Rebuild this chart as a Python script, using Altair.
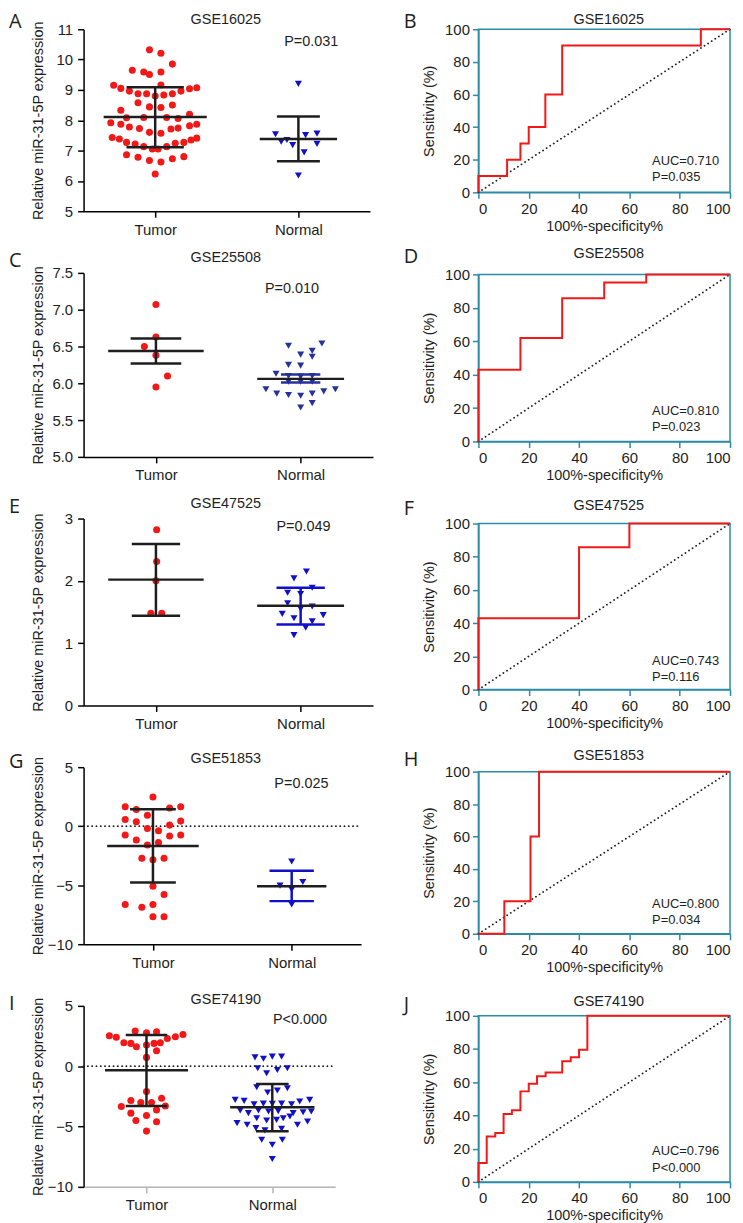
import altair as alt
import pandas as pd

FONT = "Liberation Sans"
LFONT = "Open Sans"
INK = "#1e1e1e"
RED = "#f21818"
BLUE = "#1010c8"
NAVY = "#24329a"
TEAL = "#2c8ca6"
GREY = "#b4b4b4"

# ---------------- scatter panels: (offset from group centre, value) ----------------
A_tumor_dx = [-0.04, 0.04, 0.12, -0.16, -0.08, -0.04, 0.04,
              -0.29, -0.24, -0.18, -0.12, -0.06, 0.0, 0.06, 0.12, 0.18, 0.24, 0.29, 0.04,
              -0.24, -0.12, -0.04, 0.04, 0.12, 0.24,
              -0.20, -0.08, 0.08, 0.16,
              -0.31, -0.24, -0.18, -0.11, -0.04, 0.04, 0.11, 0.16, 0.24, 0.29,
              -0.30, -0.25, -0.20, -0.14, -0.08, -0.02, 0.02, 0.08, 0.14, 0.20, 0.25, 0.29,
              -0.20, -0.12, -0.04, 0.04, 0.12, 0.20, 0.0]
A_tumor_y = [10.32, 10.21, 9.85, 9.65, 9.59, 9.51, 9.59,
             9.15, 9.05, 8.96, 8.87, 8.87, 8.80, 8.83, 8.87, 8.96, 9.04, 9.07, 9.16,
             8.33, 8.58, 8.44, 8.42, 8.50, 8.20,
             8.08, 8.09, 8.09, 8.06,
             7.92, 7.87, 7.78, 7.73, 7.60, 7.57, 7.71, 7.74, 7.82, 7.87,
             7.43, 7.38, 7.27, 7.22, 7.13, 7.05, 7.05, 7.13, 7.24, 7.27, 7.35, 7.41,
             6.86, 6.78, 6.67, 6.62, 6.73, 6.80, 6.23]
A_normal_dx = [0.0, -0.16, -0.12, -0.08, -0.04, 0.05, 0.13, 0.13, 0.04, 0.0]
A_normal_y = [9.20, 7.54, 7.29, 7.35, 7.18, 7.51, 7.56, 7.22, 6.94, 6.18]
A_tumor_stats = [8.11, 7.11, 9.09]     # mean, lower, upper
A_normal_stats = [7.38, 6.65, 8.12]

C_tumor_dx = [0.0, 0.0, -0.08, 0.0, 0.08, 0.0]
C_tumor_y = [7.07, 6.63, 6.50, 6.38, 6.10, 5.95]
C_normal_dx = [-0.084, 0.08, 0.147, 0.0, 0.08, -0.084, 0.0, -0.17, -0.084, 0.0, 0.08,
               -0.084, 0.0, 0.08, -0.24, -0.165, -0.084, 0.0, 0.08, 0.16, 0.24, 0.0, 0.08]
C_normal_y = [6.51, 6.44, 6.54, 6.39, 6.36, 6.25, 6.24, 6.13, 6.10, 6.09, 6.10,
              6.02, 6.02, 6.02, 5.92, 5.86, 5.84, 5.83, 5.86, 5.89, 5.92, 5.67, 5.73]
C_tumor_stats = [6.44, 6.27, 6.61]
C_normal_stats = [6.06, 6.01, 6.12]

E_tumor_dx = [0.005, 0.005, 0.0, -0.035, 0.04]
E_tumor_y = [2.82, 2.31, 2.00, 1.48, 1.48]
E_normal_dx = [0.04, -0.046, -0.09, 0.0, 0.08, -0.09, 0.0, 0.08, -0.127, -0.046, 0.08, 0.156, 0.035, -0.046]
E_normal_y = [2.15, 2.04, 1.81, 1.79, 1.89, 1.64, 1.55, 1.59, 1.47, 1.40, 1.35, 1.45, 1.25, 1.13]
E_tumor_stats = [2.02, 1.44, 2.59]
E_normal_stats = [1.60, 1.30, 1.89]

G_tumor_dx = [0.0, -0.2, -0.12, 0.12, 0.2, -0.2, -0.12, -0.04, 0.12, 0.2, -0.04, 0.04, -0.2, 0.2,
              0.12, -0.12, -0.04, 0.04, -0.08, 0.0, 0.08, 0.0, 0.08, -0.2, -0.08, 0.0, 0.0, 0.08]
G_tumor_y = [2.48, 1.64, 1.41, 1.55, 1.64, 0.57, 0.37, 0.93, 0.09, 0.43, -0.19, -0.38, -0.75, -0.75,
             -0.84, -1.17, -1.59, -1.39, -2.71, -2.85, -2.71, -5.09, -5.79, -6.63, -6.86, -6.63, -7.67, -7.67]
G_normal_dx = [0.0, -0.084, 0.08, 0.0, 0.0]
G_normal_y = [-2.99, -5.04, -4.73, -5.37, -6.63]
G_tumor_stats = [-1.67, -4.78, 1.44]
G_normal_stats = [-5.09, -6.35, -3.77]

I_tumor_dx = [-0.295, -0.24, -0.09, 0.0, 0.08, 0.166, 0.23, 0.29,
              -0.18, -0.124, -0.08, 0.0, 0.06, 0.11, 0.08, 0.0,
              0.0, 0.12, -0.2, -0.124, -0.045, 0.04, 0.15,
              -0.124, 0.0, 0.08, -0.084, 0.08, 0.0]
I_tumor_y = [2.52, 2.39, 2.91, 2.77, 2.85, 2.30, 2.44, 2.63,
             1.94, 1.89, 1.61, 1.75, 1.89, 1.94, 1.28, 0.73,
             -2.10, -2.65, -3.34, -2.85, -3.01, -3.01, -3.29,
             -3.89, -4.08, -3.62, -4.50, -4.61, -5.38]
I_normal_dx = [-0.137, -0.07, 0.0, 0.074,
               -0.116, -0.045, 0.04, 0.12,
               -0.124, -0.037, 0.04, 0.12,
               -0.295, -0.224, -0.145, -0.071, 0.0, 0.074, 0.153, 0.218, 0.297,
               -0.255, -0.19, -0.11, -0.03, 0.047, 0.166, 0.245, 0.31,
               -0.28, -0.2, -0.124, -0.045, 0.034, 0.087, 0.14, 0.2, 0.28,
               -0.13, -0.058, 0.074,
               -0.084, 0.08, 0.0, 0.0]
I_normal_y = [0.73, 0.62, 0.79, 0.79,
              -0.17, -0.59, -0.32, -0.17,
              -1.74, -2.18, -2.02, -1.83,
              -2.79, -2.87, -3.15, -3.10, -3.12, -3.10, -3.15, -2.93, -2.79,
              -3.67, -3.89, -3.67, -3.75, -3.72, -3.89, -3.81, -3.75,
              -4.72, -4.85, -4.31, -4.50, -4.45, -4.31, -4.17, -4.85, -4.58,
              -5.13, -5.32, -5.19,
              -6.09, -6.09, -6.51, -7.69]
I_tumor_stats = [-0.34, -3.29, 2.58]
I_normal_stats = [-3.40, -5.40, -1.47]

# ---------------- ROC curves (step vertices) ----------------
B_fpr = [0, 0, 11.4, 11.4, 16.7, 16.7, 20, 20, 26.6, 26.6, 33.3, 33.3, 88.4, 88.4, 100]
B_tpr = [0, 10, 10, 20, 20, 30, 30, 40, 40, 60, 60, 90, 90, 100, 100]
D_fpr = [0, 0, 16.7, 16.7, 33.3, 33.3, 50, 50, 66.7, 66.7, 100]
D_tpr = [0, 42.9, 42.9, 61.9, 61.9, 85.7, 85.7, 95.2, 95.2, 100, 100]
F_fpr = [0, 0, 40, 40, 60, 60, 100]
F_tpr = [0, 42.9, 42.9, 85.7, 85.7, 100, 100]
H_fpr = [0, 10.3, 10.3, 20.7, 20.7, 24.1, 24.1, 100]
H_tpr = [0, 0, 20, 20, 60, 60, 100, 100]
J_fpr = [0, 0, 3.3, 3.3, 6.7, 6.7, 10, 10, 13.3, 13.3, 16.7, 16.7, 20, 20, 23.3, 23.3,
         26.7, 26.7, 33.3, 33.3, 36.7, 36.7, 40, 40, 43.3, 43.3, 100]
J_tpr = [0, 11.4, 11.4, 27.3, 27.3, 29.5, 29.5, 40.9, 40.9, 43.2, 43.2, 54.5, 54.5, 59.1, 59.1,
         63.6, 63.6, 65.9, 65.9, 72.7, 72.7, 75, 75, 79.5, 79.5, 100, 100]

titles = ["GSE16025", "GSE25508", "GSE47525", "GSE51853", "GSE74190"]
scatter_letters = ["A", "C", "E", "G", "I"]
roc_letters = ["B", "D", "F", "H", "J"]
scatter_p = ["P=0.031", "P=0.010", "P=0.049", "P=0.025", "P<0.000"]
roc_auc = ["AUC=0.710", "AUC=0.810", "AUC=0.743", "AUC=0.800", "AUC=0.796"]
roc_p = ["P=0.035", "P=0.023", "P=0.116", "P=0.034", "P<0.000"]

# ---------------- layout / style settings ----------------
scatter_cfg = [
    dict(w=288, h=183, ydom=[5, 11], yticks=[5, 6, 7, 8, 9, 10, 11], yfmt="d", ty=-5, ly=-1,
         px=2.09, py=10.57, ncol=BLUE, nbar=INK, tm=0.36, tc=0.2, nm=0.27, nc=0.15, zero=False, xcol="black"),
    dict(w=291, h=185, ydom=[5, 7.5], yticks=[5, 5.5, 6, 6.5, 7, 7.5], yfmt=".1f", ty=-11, ly=-6,
         px=1.94, py=7.28, ncol=NAVY, nbar=NAVY, tm=0.33, tc=0.175, nm=0.3, nc=0.136, zero=False, xcol="black"),
    dict(w=291, h=188, ydom=[0, 3], yticks=[0, 1, 2, 3], yfmt="d", ty=-11, ly=-6,
         px=2.02, py=2.86, ncol=BLUE, nbar=BLUE, tm=0.33, tc=0.167, nm=0.3, nc=0.167, zero=False, xcol="black"),
    dict(w=279, h=178, ydom=[-10, 5], yticks=[-10, -5, 0, 5], yfmt="d", ty=-4, ly=1,
         px=2.07, py=3.6, ncol=BLUE, nbar=BLUE, tm=0.33, tc=0.165, nm=0.25, nc=0.16, zero=True, xcol="black"),
    dict(w=253, h=182, ydom=[-10, 5], yticks=[-10, -5, 0, 5], yfmt="d", ty=-2, ly=4,
         px=2.22, py=3.82, ncol=BLUE, nbar=INK, tm=0.33, tc=0.165, nm=0.335, nc=0.13, zero=True, xcol=GREY),
]
roc_cfg = [
    dict(h=164, ty=-5, ly=-1, ay=19.3, py=9.1),
    dict(h=168, ty=-16, ly=-11, ay=18.4, py=8.5),
    dict(h=167, ty=-14, ly=-9, ay=17.5, py=7.6),
    dict(h=163, ty=-12, ly=-6, ay=18.4, py=8.2),
    dict(h=167, ty=-10, ly=-5, ay=18.7, py=8.4),
]
ROC_W = 253
LAB = 15
TIT = 14.5


def text_layer(txt, x, y, size, align="center", font=FONT, baseline="alphabetic"):
    return alt.Chart(pd.DataFrame({"t": [txt]})).mark_text(
        font=font, fontSize=size, color=INK, align=align, baseline=baseline
    ).encode(text="t:N", x=alt.value(x), y=alt.value(y))


def scatter_panel(i, t_dx, t_y, n_dx, n_y, t_st, n_st):
    c = scatter_cfg[i]
    w, h = c["w"], c["h"]
    xax = alt.Axis(values=[1, 2], labelExpr="datum.value == 1 ? 'Tumor' : 'Normal'", title="",
                   labelFont=FONT, labelFontSize=LAB, labelColor=INK, labelPadding=5,
                   tickSize=6, tickWidth=1.5, tickColor=c["xcol"], domainColor=c["xcol"],
                   domainWidth=1.5, grid=False)
    yax = alt.Axis(values=c["yticks"], format=c["yfmt"], title="Relative miR-31-5P expression",
                   titleX=-45, titleY=h / 2, titleAngle=-90, titleAlign="center", titleBaseline="middle",
                   titleFont=FONT, titleFontSize=TIT, titleFontWeight="normal", titleColor=INK,
                   labelFont=FONT, labelFontSize=LAB, labelColor=INK, labelPadding=5,
                   tickSize=6, tickWidth=1.5, tickColor="black", domainColor="black",
                   domainWidth=1.5, grid=False)
    X = alt.X("x:Q", scale=alt.Scale(domain=[0.5, 2.5], nice=False, zero=False), axis=xax)
    Y = alt.Y("y:Q", scale=alt.Scale(domain=c["ydom"], nice=False, zero=False), axis=yax)

    layers = []
    if c["zero"]:
        zdf = pd.DataFrame({"x": [0.5], "x2": [2.5], "y": [0]})
        layers.append(alt.Chart(zdf).mark_rule(color=INK, strokeWidth=1.8, strokeDash=[0.1, 4.2],
                                                 strokeCap="round").encode(x=X, x2="x2:Q", y=Y))
    tdf = pd.DataFrame({"x": [1 + d for d in t_dx], "y": t_y})
    ndf = pd.DataFrame({"x": [2 + d for d in n_dx], "y": n_y})
    layers.append(alt.Chart(tdf).mark_point(filled=True, shape="circle", size=50, color=RED, opacity=1)
                  .encode(x=X, y=Y))
    layers.append(alt.Chart(ndf).mark_point(filled=True, shape="triangle-down", size=50, color=c["ncol"],
                                             opacity=1).encode(x=X, y=Y))
    rows_h = []
    rows_v = []
    for ctr, st, ch, bc in [(1, t_st, c["tc"], INK), (2, n_st, c["nc"], c["nbar"])]:
        mean, lo, hi = st
        rows_h.append(dict(x=ctr - ch, x2=ctr + ch, y=lo, c=bc))
        rows_h.append(dict(x=ctr - ch, x2=ctr + ch, y=hi, c=bc))
        rows_v.append(dict(x=ctr, y=lo, y2=hi, c=bc))
    means = [dict(x=1 - c["tm"], x2=1 + c["tm"], y=t_st[0], c=INK),
             dict(x=2 - c["nm"], x2=2 + c["nm"], y=n_st[0], c=INK)]
    layers.append(alt.Chart(pd.DataFrame(rows_v)).mark_rule(strokeWidth=2.5)
                  .encode(x=X, y=Y, y2="y2:Q", color=alt.Color("c:N", scale=None)))
    layers.append(alt.Chart(pd.DataFrame(rows_h)).mark_rule(strokeWidth=2.5)
                  .encode(x=X, x2="x2:Q", y=Y, color=alt.Color("c:N", scale=None)))
    layers.append(alt.Chart(pd.DataFrame(means)).mark_rule(strokeWidth=2.5)
                  .encode(x=X, x2="x2:Q", y=Y, color=alt.Color("c:N", scale=None)))
    pdf = pd.DataFrame({"x": [c["px"]], "y": [c["py"]], "t": [scatter_p[i]]})
    layers.append(alt.Chart(pdf).mark_text(font=FONT, fontSize=TIT, color=INK, align="center",
                                            baseline="middle").encode(x=X, y=Y, text="t:N"))
    layers.append(text_layer(titles[i], 143, c["ty"], TIT))
    layers.append(text_layer(scatter_letters[i], -75, c["ly"], 20, align="left", font=LFONT))
    return alt.layer(*layers).properties(width=w, height=h)


def roc_panel(i, fpr, tpr):
    c = roc_cfg[i]
    h = c["h"]
    xax = alt.Axis(values=[0, 20, 40, 60, 80, 100], title="100%-specificity%",
                   titleX=ROC_W / 2, titleY=34, titleAlign="center", titleBaseline="middle",
                   titleFont=FONT, titleFontSize=TIT, titleFontWeight="normal", titleColor=INK,
                   labelFont=FONT, labelFontSize=LAB, labelColor=INK, labelPadding=3,
                   tickSize=6, tickWidth=1.5, tickColor=TEAL, domainColor=TEAL, domainWidth=1.5, grid=False)
    yax = alt.Axis(values=[0, 20, 40, 60, 80, 100], title="Sensitivity (%)",
                   titleX=-49, titleY=h / 2, titleAngle=-90, titleAlign="center", titleBaseline="middle",
                   titleFont=FONT, titleFontSize=TIT, titleFontWeight="normal", titleColor=INK,
                   labelFont=FONT, labelFontSize=LAB, labelColor=INK, labelPadding=3,
                   tickSize=6, tickWidth=1.5, tickColor=TEAL, domainColor=TEAL, domainWidth=1.5, grid=False)
    X = alt.X("x:Q", scale=alt.Scale(domain=[0, 100], nice=False), axis=xax)
    Y = alt.Y("y:Q", scale=alt.Scale(domain=[0, 100], nice=False), axis=yax)
    diag = pd.DataFrame({"x": [0, 100], "y": [0, 100]})
    curve = pd.DataFrame({"x": fpr, "y": tpr, "o": list(range(len(fpr)))})
    layers = [
        alt.Chart(diag).mark_line(color=INK, strokeWidth=1.8, strokeDash=[0.1, 4.2], strokeCap="round")
        .encode(x=X, y=Y),
        alt.Chart(curve).mark_line(color=RED, strokeWidth=2).encode(x=X, y=Y, order="o:Q"),
        alt.Chart(pd.DataFrame({"x": [69, 69], "y": [c["ay"], c["py"]], "t": [roc_auc[i], roc_p[i]]}))
        .mark_text(font=FONT, fontSize=13, color=INK, align="left", baseline="middle")
        .encode(x=X, y=Y, text="t:N"),
        text_layer(titles[i], 131, c["ty"], TIT),
        text_layer(roc_letters[i], -75, c["ly"], 20, align="left", font=LFONT),
    ]
    return alt.layer(*layers).properties(width=ROC_W, height=h,
                                         view=alt.ViewBackground(stroke=TEAL, strokeWidth=1.5))


scatter_data = [
    (A_tumor_dx, A_tumor_y, A_normal_dx, A_normal_y, A_tumor_stats, A_normal_stats),
    (C_tumor_dx, C_tumor_y, C_normal_dx, C_normal_y, C_tumor_stats, C_normal_stats),
    (E_tumor_dx, E_tumor_y, E_normal_dx, E_normal_y, E_tumor_stats, E_normal_stats),
    (G_tumor_dx, G_tumor_y, G_normal_dx, G_normal_y, G_tumor_stats, G_normal_stats),
    (I_tumor_dx, I_tumor_y, I_normal_dx, I_normal_y, I_tumor_stats, I_normal_stats),
]
roc_data = [(B_fpr, B_tpr), (D_fpr, D_tpr), (F_fpr, F_tpr), (H_fpr, H_tpr), (J_fpr, J_tpr)]

left = alt.vconcat(*[scatter_panel(i, *scatter_data[i]) for i in range(5)], spacing=62, bounds="flush")
right = alt.vconcat(*[roc_panel(i, *roc_data[i]) for i in range(5)], spacing=82.5, bounds="flush")

chart = alt.hconcat(left, right, spacing=29).properties(
    padding={"left": 0, "top": 0, "right": 0, "bottom": 0}
).configure_view(stroke="transparent")
chart.save("out.html", embed_options={"renderer": "svg", "actions": False})
